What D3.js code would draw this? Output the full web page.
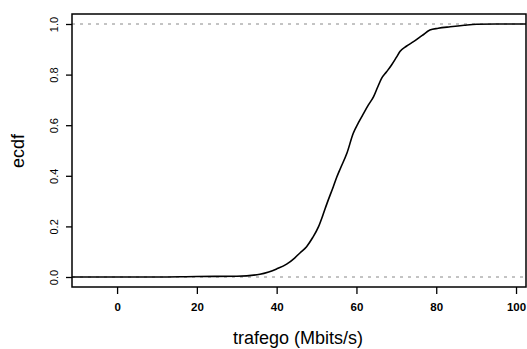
<!DOCTYPE html>
<html><head><meta charset="utf-8">
<script src="https://cdn.jsdelivr.net/npm/d3@7"></script>
<style>body{margin:0;background:#fff}svg{display:block}</style>
</head><body>
<svg id="c" width="527" height="349"></svg>
<script>
// ECDF of traffic (Mbits/s)
const trafego = [-20, 0, 10, 20, 30, 35.8, 38, 40, 42.5, 44.5, 45.9, 47.5, 49, 50.5, 51.6, 52.6, 54.2, 55.1, 56, 57.6, 59.2, 60.5, 61.8, 63, 64.3, 65.3, 66.3, 67.5, 68.8, 70, 70.9, 72.5, 74.3, 76.5, 78.4, 80.5, 83.5, 87, 90.1, 95, 100, 110];
const ecdfVals = [0, 0, 0, 0.002, 0.003, 0.011, 0.02, 0.032, 0.051, 0.075, 0.096, 0.12, 0.155, 0.199, 0.245, 0.29, 0.357, 0.396, 0.43, 0.489, 0.568, 0.61, 0.647, 0.68, 0.713, 0.75, 0.785, 0.81, 0.838, 0.868, 0.891, 0.912, 0.93, 0.955, 0.976, 0.983, 0.989, 0.995, 0.999, 1, 1, 1];
const xTicks = [0, 20, 40, 60, 80, 100];
const yTicks = [0, 0.2, 0.4, 0.6, 0.8, 1.0];
const xTitle = "trafego (Mbits/s)";
const yTitle = "ecdf";

const svg = d3.select("#c");
const L = 72, R = 526, T = 14, B = 287;
const x = d3.scaleLinear().domain([-11.3, 102.5]).range([L, R]);
const y = d3.scaleLinear().domain([0, 1]).range([277, 24]);

svg.append("defs").append("clipPath").attr("id", "clip")
  .append("rect").attr("x", L).attr("y", T).attr("width", R - L).attr("height", B - T);

const font = "'Liberation Sans', Arial, sans-serif";

// dashed reference lines at 0 and 1
svg.append("g").selectAll("line").data([0, 1]).join("line")
  .attr("x1", L).attr("x2", R).attr("y1", d => y(d)).attr("y2", d => y(d))
  .attr("stroke", "#888").attr("stroke-width", 1).attr("stroke-dasharray", "3,5");

// ecdf curve
const line = d3.line().curve(d3.curveMonotoneX).x(d => x(d)).y((d, i) => y(ecdfVals[i]));
svg.append("path").datum(trafego).attr("d", line)
  .attr("clip-path", "url(#clip)")
  .attr("fill", "none").attr("stroke", "#000").attr("stroke-width", 1.6);

// box
svg.append("rect").attr("x", L).attr("y", T).attr("width", R - L).attr("height", B - T)
  .attr("fill", "none").attr("stroke", "#000").attr("stroke-width", 1.5);

// x axis
const xa = svg.append("g").attr("transform", `translate(0,${B})`)
  .call(d3.axisBottom(x).tickValues(xTicks).tickFormat(d3.format("d")).tickSize(7).tickPadding(9));
xa.select(".domain").remove();
xa.selectAll("line").attr("stroke-width", 1.3);
xa.selectAll("text").attr("font-family", font).attr("font-size", 11.5).attr("font-weight", "bold").attr("fill", "#000");

// y axis
const ya = svg.append("g").attr("transform", `translate(${L},0)`)
  .call(d3.axisLeft(y).tickValues(yTicks).tickFormat(d3.format(".1f")).tickSize(6).tickPadding(0));
ya.select(".domain").remove();
ya.selectAll("line").attr("stroke-width", 1.3);
ya.selectAll("text").attr("font-family", font).attr("font-size", 11).attr("fill", "#000")
  .attr("text-anchor", "middle").attr("dy", null).attr("x", null)
  .attr("transform", d => `translate(-18,0) rotate(-90)`)
  .attr("dominant-baseline", "central");

// titles
svg.append("text").attr("x", 298).attr("y", 338).attr("text-anchor", "middle")
  .attr("dominant-baseline", "central").attr("font-family", font).attr("font-size", 18).text(xTitle);
svg.append("text").attr("transform", "translate(18,151) rotate(-90)").attr("text-anchor", "middle")
  .attr("dominant-baseline", "central").attr("font-family", font).attr("font-size", 18).text(yTitle);
</script>
</body></html>
